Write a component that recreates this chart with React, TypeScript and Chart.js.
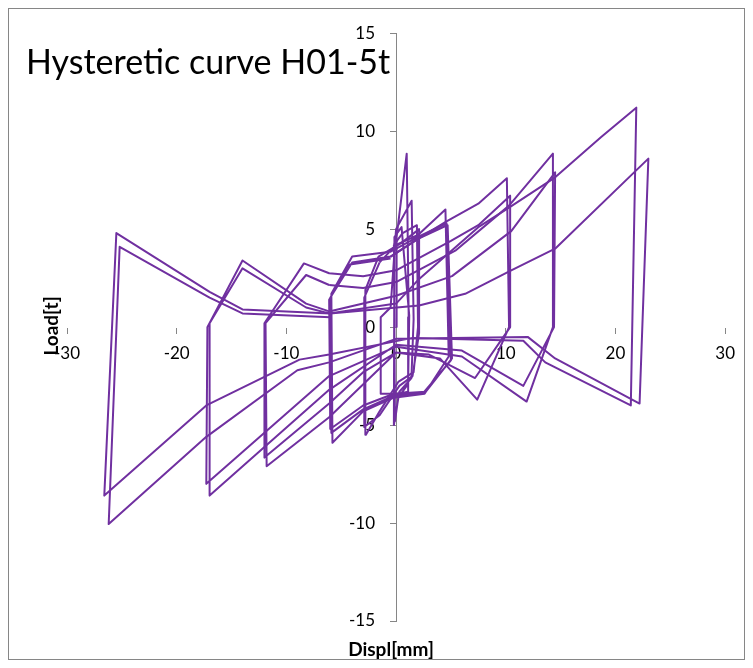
import { useEffect, useRef } from 'react';
import { Chart, registerables } from 'chart.js';

Chart.register(...registerables);

// Cycle group 1 (smallest amplitude, ~+1 / -1.5 mm)
const loop1Displ = [0, 0.05, 0.97, 1.15, 1.1, 0.2, -1.4, -1.4, -0.5, 0.0, 1.42, 1.6, 1.4, 0.3, -0.2, -0.15, 0.5, 1.2, 1.1, 0.2, -0.1, -0.2];
const loop1Load = [0, 4.6, 8.85, 0.5, -3.3, -3.4, -3.4, 0.5, 1.0, 5.0, 6.45, 0.4, -2.6, -3.3, -5.0, 4.6, 5.1, 0.6, -2.9, -3.6, -4.8, 4.2];

// Cycle group 2 (~+2 / -3 mm)
const loop2Displ = [-0.2, 0.6, 1.9, 2.0, 1.6, 0.2, -1.5, -2.75, -2.8, -1.6, 0.5, 2.1, 2.1, 1.5, 0.3, -1.5, -2.9, -2.9, -1.5];
const loop2Load = [4.2, 4.8, 5.2, 0.0, -2.3, -2.8, -4.3, -5.5, 1.9, 3.6, 4.3, 5.0, -0.3, -2.5, -3.0, -4.5, -5.1, 1.5, 3.3];

// Cycle group 3 (~+5 / -6 mm)
const loop3Displ = [-1.5, 0, 2, 4.5, 4.8, 2.6, -0.2, -3, -5.8, -5.9, -4.0, -0.5, 2, 4.6, 5.0, 2.5, -0.2, -3, -5.9, -6.0, -4.0, -0.5, 2, 4.7, 5.1, 2.7, -0.2, -3, -6.0, -6.1, -4.2, -0.5];
const loop3Load = [3.3, 4.2, 4.7, 6.0, -1.5, -3.4, -3.6, -4.3, -5.9, 1.7, 3.6, 3.85, 4.6, 5.3, -1.7, -3.35, -3.5, -4.2, -5.4, 1.5, 3.3, 3.6, 4.5, 5.2, -1.6, -3.3, -3.4, -4.0, -5.2, 1.4, 3.2, 3.5];

// Cycle group 4 (~+10 / -12 mm)
const loop4Displ = [-0.5, 2, 4.6, 7.5, 10.1, 10.3, 7.4, 4, 0, -3, -6.1, -12, -12, -8.4, -6.1, -3, 0, 5, 7.5, 10.4, 10.4, 7.2, 3, 0, -6.1, -11.8, -11.9, -8.2, -6.1];
const loop4Load = [3.6, 4.5, 5.4, 6.3, 7.6, 0.0, -3.7, -1.6, -1.3, -2.3, -3.9, -6.66, 0.2, 3.25, 2.75, 2.6, 2.9, 4.4, 5.2, 6.7, 0.0, -2.6, -1.4, -1.3, -4.6, -7.1, 0.2, 2.66, 2.15];

// Cycle group 5 (~+14.5 / -17.5 mm)
const loop5Displ = [-6.1, -3, 0, 5.4, 10.3, 14.3, 14.3, 11.9, 6, 0, -6.1, -17.3, -17.2, -14, -8.2, -6.1, 0, 5.1, 10.5, 14.5, 14.4, 11.6, 6, 0, -6.1, -17, -17, -14, -8.2, -6.1];
const loop5Load = [2.15, 2.0, 2.3, 3.9, 6.2, 8.85, 0.0, -3.8, -1.5, -1.0, -2.5, -8.0, 0.0, 3.4, 1.2, 0.8, 1.6, 2.6, 4.9, 7.9, 0.0, -3.0, -1.2, -0.9, -3.2, -8.6, 0.2, 3.0, 1.0, 0.7];

// Cycle group 6 (largest, ~+22 / -26.5 mm)
const loop6Displ = [-6.1, 0, 2, 7.5, 10.3, 14.4, 18.7, 21.9, 21.4, 13.6, 11.6, 1.5, -6.1, -8.8, -17.3, -26.6, -25.5, -17, -14, -6, 2.1, 6.3, 10.5, 14.5, 23, 22.2, 14.5, 12, 0, -6.1, -9, -17.3, -26.2, -25.2, -17, -14, -6];
const loop6Load = [0.7, 1.2, 2.4, 5.1, 6.1, 7.6, 9.7, 11.2, -4.0, -1.8, -0.7, -0.55, -1.4, -1.66, -4.0, -8.6, 4.8, 1.8, 0.9, 0.7, 1.1, 1.7, 2.9, 4.0, 8.6, -3.9, -1.6, -0.5, -0.6, -1.8, -2.2, -5.6, -10.05, 4.1, 1.5, 0.7, 0.5];

const xTickValues = [-30, -20, -10, 0, 10, 20, 30];
const yTickValues = [-15, -10, -5, 0, 5, 10, 15];

const chartTitle = 'Hysteretic curve H01-5t';
const xAxisTitle = 'Displ[mm]';
const yAxisTitle = 'Load[t]';

export default function App() {
  const ref = useRef<HTMLCanvasElement>(null);

  useEffect(() => {
    const loops: [number[], number[]][] = [
      [loop1Displ, loop1Load],
      [loop2Displ, loop2Load],
      [loop3Displ, loop3Load],
      [loop4Displ, loop4Load],
      [loop5Displ, loop5Load],
      [loop6Displ, loop6Load],
    ];
    const chart = new Chart(ref.current as HTMLCanvasElement, {
      type: 'scatter',
      data: {
        datasets: loops.map(([xs, ys], k) => ({
          label: 'loop' + (k + 1),
          data: xs.map((x, i) => ({ x, y: ys[i] })),
          showLine: true,
          borderColor: '#7030A0',
          backgroundColor: '#7030A0',
          borderWidth: 2,
          pointRadius: 0,
          tension: 0,
          fill: false,
          borderJoinStyle: 'round',
        })),
      },
      options: {
        responsive: false,
        animation: false,
        devicePixelRatio: 1,
        layout: { padding: { left: 59, right: 16, top: 22, bottom: 39 } },
        plugins: { legend: { display: false }, tooltip: { enabled: false }, title: { display: false } },
        scales: {
          x: {
            type: 'linear',
            position: 'center',
            min: -30,
            max: 30,
            afterBuildTicks: (s: any) => {
              s.ticks = xTickValues.map((v) => ({ value: v }));
            },
            grid: { display: true, drawOnChartArea: false, drawTicks: true, tickLength: 6, color: '#868686' },
            border: { display: false },
            ticks: { padding: 10, maxRotation: 0, autoSkip: false, font: { family: 'Lato', size: 17 }, color: '#000' },
          },
          y: {
            type: 'linear',
            position: 'center',
            min: -15,
            max: 15,
            afterBuildTicks: (s: any) => {
              s.ticks = yTickValues.map((v) => ({ value: v }));
            },
            grid: { display: true, drawOnChartArea: false, drawTicks: true, tickLength: 6, color: '#868686' },
            border: { display: true, color: '#868686', width: 1 },
            ticks: { padding: 15, autoSkip: false, font: { family: 'Lato', size: 17 }, color: '#000' },
          },
        },
      },
    });
    return () => chart.destroy();
  }, []);

  return (
    <div style={{ position: 'relative', width: 737, height: 652 }}>
      <canvas ref={ref} width={737} height={652} style={{ display: 'block' }} />
      <div
        style={{
          position: 'absolute',
          left: 0,
          top: 0,
          width: 737,
          height: 652,
          boxSizing: 'border-box',
          border: '1px solid #868686',
          pointerEvents: 'none',
        }}
      />
      <div
        style={{
          position: 'absolute',
          left: 18,
          top: 36,
          fontFamily: 'Lato',
          fontSize: 34,
          lineHeight: '34px',
          whiteSpace: 'nowrap',
          color: '#000',
        }}
      >
        {chartTitle}
      </div>
      <div
        style={{
          position: 'absolute',
          left: 42,
          top: 318,
          transform: 'translate(-50%, -50%) rotate(-90deg)',
          fontFamily: 'Lato',
          fontWeight: 'bold',
          fontSize: 19,
          lineHeight: '19px',
          whiteSpace: 'nowrap',
          color: '#000',
        }}
      >
        {yAxisTitle}
      </div>
      <div
        style={{
          position: 'absolute',
          left: 383,
          top: 640,
          transform: 'translate(-50%, -50%)',
          fontFamily: 'Lato',
          fontWeight: 'bold',
          fontSize: 19,
          lineHeight: '19px',
          whiteSpace: 'nowrap',
          color: '#000',
        }}
      >
        {xAxisTitle}
      </div>
    </div>
  );
}
